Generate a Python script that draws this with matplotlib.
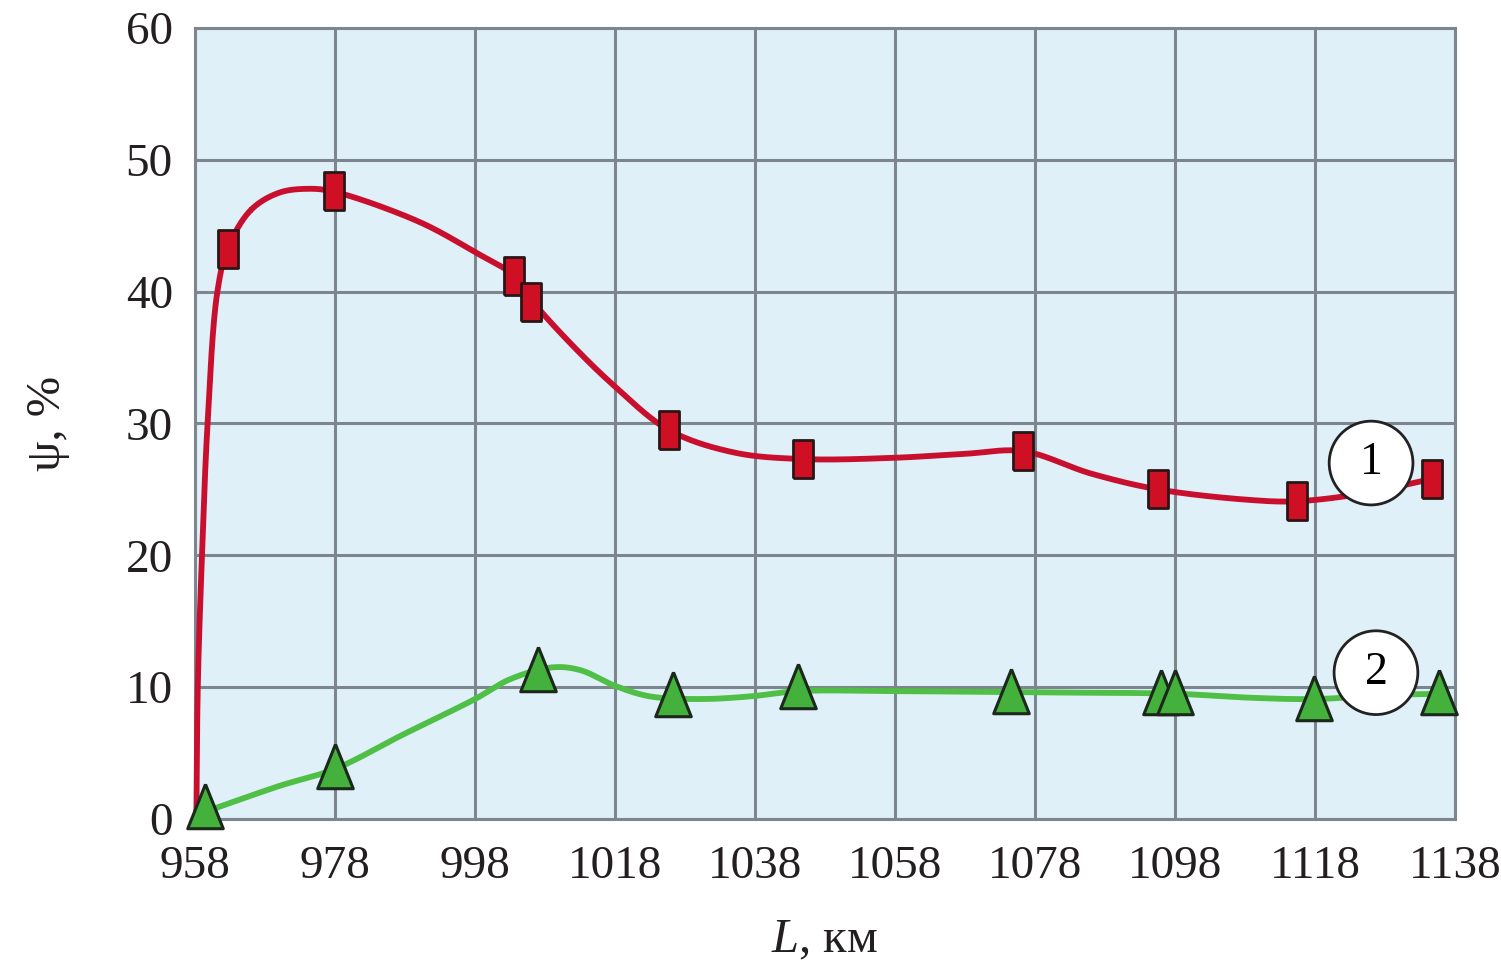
import numpy as np
import matplotlib
matplotlib.use("Agg")
import matplotlib.pyplot as plt

plt.rcParams['font.family'] = ['Liberation Serif', 'DejaVu Serif']
plt.rcParams['mathtext.fontset'] = 'custom'
plt.rcParams['mathtext.rm'] = 'Liberation Serif'
plt.rcParams['mathtext.it'] = 'Liberation Serif:italic'

# измеренные точки (маркеры)
red_x = [962.7, 977.8, 1003.6, 1006.0, 1025.7, 1044.9, 1076.3, 1095.6, 1115.4, 1134.7]
red_y = [43.2, 47.6, 41.2, 39.2, 29.5, 27.3, 27.9, 25.0, 24.1, 25.8]
green_x = [959.4, 978.0, 1007.0, 1026.3, 1044.2, 1074.6, 1096.0, 1098.0, 1117.9, 1135.7]
green_y = [1.0, 4.0, 11.4, 9.5, 10.1, 9.7, 9.65, 9.65, 9.2, 9.65]

# точки сглаживающих кривых
red_curve_x = [958.2, 958.4, 959.0, 959.8, 961.2, 962.7, 966.0, 970.0, 974.0, 977.7,
               990.0, 998.0, 1003.6, 1006.0, 1011.6, 1018.0, 1025.7, 1035.0,
               1044.9, 1058.0, 1068.0, 1076.3, 1086.0, 1095.6, 1108.7, 1115.3, 1125.0, 1134.7]
red_curve_y = [0.0, 10.0, 20.0, 30.0, 40.0, 43.3, 46.2, 47.5, 47.8, 47.6,
               45.3, 43.0, 41.2, 39.4, 36.1, 32.8, 29.5, 27.8,
               27.3, 27.4, 27.7, 27.9, 26.2, 25.0, 24.2, 24.1, 24.7, 25.8]
green_curve_x = [959.2, 970.0, 978.0, 987.7, 998.0, 1003.0, 1009.0, 1013.0, 1018.0,
                 1023.0, 1030.3, 1037.3, 1044.2, 1058.0, 1078.0, 1098.0, 1108.7,
                 1118.0, 1128.0, 1136.0]
green_curve_y = [0.5, 2.5, 3.8, 6.4, 9.1, 10.6, 11.5, 11.3, 10.1,
                 9.3, 9.1, 9.3, 9.7, 9.7, 9.6, 9.5, 9.2,
                 9.1, 9.4, 9.5]

x_ticks = [958, 978, 998, 1018, 1038, 1058, 1078, 1098, 1118, 1138]
y_ticks = [0, 10, 20, 30, 40, 50, 60]


def catmull_rom(x, y, sx=7.0, sy=13.2, n=60):
    # центростремительный сплайн Катмулла-Рома в пиксельном масштабе
    p = np.column_stack([np.asarray(x, float) * sx, np.asarray(y, float) * sy])
    p = np.vstack([2 * p[0] - p[1], p, 2 * p[-1] - p[-2]])
    out = []
    for i in range(1, len(p) - 2):
        p0, p1, p2, p3 = p[i - 1], p[i], p[i + 1], p[i + 2]
        t0 = 0.0
        t1 = t0 + np.linalg.norm(p1 - p0) ** 0.5
        t2 = t1 + np.linalg.norm(p2 - p1) ** 0.5
        t3 = t2 + np.linalg.norm(p3 - p2) ** 0.5
        t = np.linspace(t1, t2, n)[:, None]
        a1 = (t1 - t) / (t1 - t0) * p0 + (t - t0) / (t1 - t0) * p1
        a2 = (t2 - t) / (t2 - t1) * p1 + (t - t1) / (t2 - t1) * p2
        a3 = (t3 - t) / (t3 - t2) * p2 + (t - t2) / (t3 - t2) * p3
        b1 = (t2 - t) / (t2 - t0) * a1 + (t - t0) / (t2 - t0) * a2
        b2 = (t3 - t) / (t3 - t1) * a2 + (t - t1) / (t3 - t1) * a3
        c = (t2 - t) / (t2 - t1) * b1 + (t - t1) / (t2 - t1) * b2
        out.append(c)
    c = np.vstack(out)
    return c[:, 0] / sx, c[:, 1] / sy


fig = plt.figure(figsize=(15.01, 9.64), dpi=100)
ax = fig.add_axes([0.1299, 0.1504, 0.8395, 0.8206])
ax.set_facecolor('#dff0f9')

rx, ry = catmull_rom(red_curve_x, red_curve_y)
gx, gy = catmull_rom(green_curve_x, green_curve_y)
ax.plot(rx, ry, color='#c8102e', lw=4.2, zorder=3, clip_on=False, solid_capstyle='round')
ax.plot(gx, gy, color='#4fbf46', lw=4.2, zorder=3, clip_on=False, solid_capstyle='round')

rect = [(-0.52, -1), (0.52, -1), (0.52, 1), (-0.52, 1), (-0.52, -1)]
tri = [(0, 1), (-0.8, -1), (0.8, -1), (0, 1)]

# подписи кривых в кружках
for lx, ly, s in [(1126.0, 27.0, '1'), (1126.7, 11.1, '2')]:
    ax.text(lx, ly, s, fontsize=33, ha='center', va='center', zorder=4,
            bbox=dict(boxstyle='circle,pad=0.45', fc='white', ec='#222222', lw=2))

ax.plot(red_x, red_y, ls='none', marker=rect, ms=28, mfc='#cf1024', mec='#2a1616',
        mew=2, zorder=5, clip_on=False)
ax.plot(green_x, green_y, ls='none', marker=tri, ms=32, mfc='#44b13c', mec='#1c281c',
        mew=2.2, zorder=5, clip_on=False)

ax.set_xlim(958, 1138)
ax.set_ylim(0, 60)
ax.set_xticks(x_ticks)
ax.set_yticks(y_ticks)
ax.tick_params(length=0, labelsize=34, colors='#231f20')
ax.tick_params(axis='x', pad=19)
ax.tick_params(axis='y', pad=16)
ax.grid(True, color='#7d868e', lw=2.2)
ax.set_axisbelow(True)
for sp in ax.spines.values():
    sp.set_color('#7d868e')
    sp.set_linewidth(2.2)

ax.set_xlabel('$\\mathit{L}$, км', fontsize=35, labelpad=22, color='#231f20')
ax.set_ylabel('ψ, %', fontsize=35, labelpad=40, color='#231f20')

plt.savefig('out.png', dpi=100)
